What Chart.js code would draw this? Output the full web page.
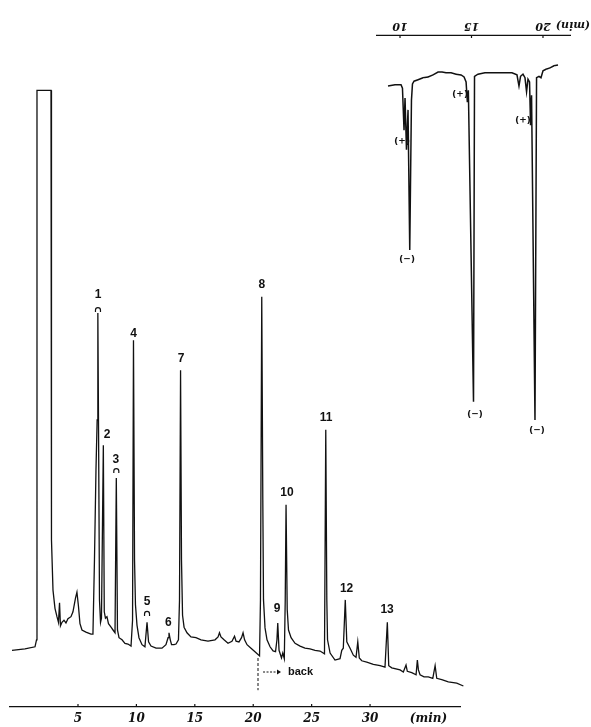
<!DOCTYPE html>
<html>
<head>
<meta charset="utf-8">
<script src="https://cdn.jsdelivr.net/npm/chart.js@4.4.1/dist/chart.umd.min.js"></script>
<style>
  html, body { margin: 0; padding: 0; background: #fff; }
  #wrap { position: relative; width: 591px; height: 727px; overflow: hidden; }
  #main { position: absolute; left: 0; top: 0; }
  /* the inset trace is printed upside down in the original */
  #inset { position: absolute; left: 360px; top: 0; transform: rotate(180deg); }
</style>
</head>
<body>
<div id="wrap">
  <canvas id="main" width="591" height="727"></canvas>
  <canvas id="inset" width="231" height="460"></canvas>
</div>
<script>
// ---- main chromatogram (time in min, detector response in arbitrary units) ----
const mainTime = [
  -0.65, 0.46, 1.32, 1.45, 1.49, 2.69, 2.73, 2.86, 3.03, 3.20, 3.33, 3.42, 3.50, 3.63, 3.80, 3.97, 4.14, 4.40, 4.57, 4.79,
  4.91, 5.04, 5.17, 5.34, 5.68, 6.11, 6.28, 6.41, 6.54, 6.64, 6.70, 6.76, 6.84, 6.93, 7.01, 7.17, 7.25, 7.35, 7.48, 7.61,
  7.83, 8.00, 8.17, 8.28, 8.38, 8.51, 8.77, 9.02, 9.28, 9.54, 9.67, 9.75, 9.84, 9.92, 10.05, 10.22, 10.48, 10.73, 10.91, 11.04,
  11.25, 11.68, 12.19, 12.53, 12.71, 12.79, 12.90, 13.01, 13.22, 13.39, 13.60, 13.69, 13.78, 13.86, 13.95, 14.08, 14.33, 14.67, 15.10, 15.53,
  16.13, 16.73, 16.99, 17.11, 17.24, 17.50, 17.84, 18.18, 18.40, 18.53, 18.78, 19.00, 19.13, 19.26, 19.47, 19.81, 20.15, 20.54, 20.62, 20.73,
  20.82, 20.88, 21.01, 21.18, 21.44, 21.70, 21.91, 22.03, 22.10, 22.21, 22.42, 22.53, 22.66, 22.74, 22.81, 22.91, 23.02, 23.24, 23.58, 24.01,
  24.43, 24.86, 25.29, 25.72, 26.10, 26.21, 26.30, 26.36, 26.58, 27.00, 27.43, 27.58, 27.71, 27.88, 28.01, 28.29, 28.57, 28.80, 28.95, 29.08,
  29.29, 29.72, 30.28, 30.86, 31.28, 31.48, 31.60, 31.86, 32.57, 32.85, 33.08, 33.19, 33.57, 33.94, 34.05, 34.14, 34.28, 34.62, 34.99, 35.37,
  35.57, 35.71, 36.14, 36.70, 37.42, 37.99
];
const mainSignal = [
  8.1, 8.3, 8.6, 9.6, 88.1, 88.1, 23.9, 16.7, 14.1, 12.9, 12.1, 14.9, 11.6, 12.1, 12.4, 12.0, 12.6, 12.9, 13.6, 15.6,
  16.4, 14.4, 11.9, 11.0, 10.7, 10.4, 10.4, 21.0, 33.9, 41.0, 56.3, 39.6, 15.3, 12.1, 12.7, 37.4, 13.6, 12.7, 12.9, 11.9,
  11.4, 11.0, 10.6, 32.7, 11.0, 9.9, 9.6, 9.1, 9.0, 8.7, 12.4, 52.4, 21.0, 14.6, 11.7, 9.9, 8.9, 8.6, 12.1, 9.3,
  8.7, 8.4, 8.4, 8.9, 9.9, 10.6, 9.6, 8.9, 8.9, 9.0, 9.6, 15.3, 48.1, 21.0, 13.1, 11.4, 10.6, 10.0, 9.9, 9.6,
  9.4, 9.6, 10.0, 10.6, 10.0, 9.6, 9.1, 9.4, 10.1, 9.4, 9.3, 9.9, 10.6, 9.6, 8.9, 8.4, 7.9, 7.3, 15.3, 58.6,
  29.6, 15.3, 11.3, 9.6, 8.6, 8.0, 7.9, 9.6, 12.0, 8.1, 7.0, 7.7, 6.9, 15.3, 28.9, 13.9, 11.0, 9.9, 9.1, 8.7,
  8.4, 8.3, 8.1, 8.0, 7.6, 39.6, 15.3, 9.6, 7.7, 6.7, 6.9, 8.1, 8.4, 15.3, 9.3, 8.4, 7.4, 7.1, 9.3, 7.0,
  6.6, 6.4, 6.1, 5.9, 5.7, 12.1, 5.9, 5.6, 5.3, 5.0, 6.0, 5.1, 4.9, 4.6, 6.7, 5.3, 4.6, 4.3, 4.3, 4.1,
  5.9, 4.1, 3.9, 3.6, 3.4, 3.0
];
const mainTicks = [5, 10, 15, 20, 25, 30, 35];   // 35 carries the "(min)" caption

// peak numbers and where they are written (time, response)
const peakNames = ['1', '2', '3', '4', '5', '6', '7', '8', '9', '10', '11', '12', '13'];
const peakLabelTime = [6.71, 7.48, 8.25, 9.75, 10.91, 12.73, 13.82, 20.73, 22.04, 22.89, 26.23, 27.99, 31.46];
const peakLabelLevel = [58.9, 38.9, 35.3, 53.4, 15.1, 12.1, 49.7, 60.3, 14.1, 30.6, 41.4, 16.9, 13.9];
// little "∩" marks under some numbers
const bracketTime = [6.71, 8.28, 10.91];
const bracketLevel = [56.7, 33.7, 13.3];
// "→ back" note
const backTime = 20.41;
const backArrow = [20.84, 22.38];
const backLevel = 5.0;

// ---- inset trace (printed upside down) ----
const insetTime = [
  9.16, 9.65, 10.07, 10.17, 10.28, 10.35, 10.45, 10.56, 10.68, 10.80, 10.87, 10.98, 11.26, 11.61, 11.96, 12.31, 12.66, 12.94,
  13.22, 13.57, 13.92, 14.27, 14.48, 14.62, 14.71, 14.78, 15.14, 15.21, 15.45, 15.94, 16.64, 17.34, 17.83, 18.18, 18.32, 18.43,
  18.60, 18.74, 18.85, 18.95, 19.06, 19.13, 19.20, 19.44, 19.55, 19.72, 19.86, 20.00, 20.21, 20.49, 20.77, 21.05
];
const insetSignal = [
  7.3, 7.1, 7.1, 7.6, 13.6, 9.0, 16.4, 10.7, 30.7, 9.3, 7.0, 6.6, 6.4, 6.1, 6.0, 5.7, 5.3, 5.3,
  5.4, 5.4, 5.6, 5.7, 6.0, 6.7, 9.6, 7.9, 52.4, 5.9, 5.6, 5.4, 5.4, 5.4, 5.4, 5.7, 7.3, 5.9,
  5.6, 6.1, 8.1, 6.3, 6.7, 12.9, 8.6, 55.0, 6.1, 5.9, 6.1, 5.1, 4.9, 4.7, 4.4, 4.3
];
const insetTicks = [10, 15, 20];
const signNames = ['(−)', '(−)', '(−)', '(+)', '(+)', '(+)'];
const signTime = [10.49, 15.24, 19.58, 10.14, 14.20, 18.60];
const signLevel = [31.9, 54.0, 56.4, 15.0, 8.3, 12.1];

const ink = '#111';

// short tick marks pointing into the plot
const innerTicks = {
  id: 'innerTicks',
  afterDraw(chart, args, opts) {
    const { ctx, chartArea } = chart;
    const x = chart.scales.x;
    ctx.save();
    ctx.strokeStyle = ink;
    ctx.lineWidth = 1.2;
    opts.values.forEach(v => {
      const px = x.getPixelForValue(v);
      ctx.beginPath();
      ctx.moveTo(px, chartArea.bottom);
      ctx.lineTo(px, chartArea.bottom - 3);
      ctx.stroke();
    });
    ctx.restore();
  }
};

const mainNotes = {
  id: 'mainNotes',
  afterDatasetsDraw(chart) {
    const { ctx } = chart;
    const x = chart.scales.x, y = chart.scales.y;
    ctx.save();
    ctx.fillStyle = ink;
    ctx.strokeStyle = ink;
    ctx.textAlign = 'center';
    ctx.textBaseline = 'middle';
    ctx.font = 'bold 12px "Liberation Sans"';
    peakNames.forEach((n, i) => {
      ctx.fillText(n, x.getPixelForValue(peakLabelTime[i]), y.getPixelForValue(peakLabelLevel[i]));
    });
    ctx.lineWidth = 1.2;
    bracketTime.forEach((t, i) => {
      const px = x.getPixelForValue(t), py = y.getPixelForValue(bracketLevel[i]);
      ctx.beginPath();
      ctx.moveTo(px - 2.5, py + 2);
      ctx.lineTo(px - 2.5, py);
      ctx.arc(px, py, 2.5, Math.PI, 0);
      ctx.lineTo(px + 2.5, py + 2);
      ctx.stroke();
    });
    // dashed marker and "→ back"
    const bx = x.getPixelForValue(backTime);
    ctx.lineWidth = 1;
    ctx.setLineDash([3, 2]);
    ctx.beginPath();
    ctx.moveTo(bx, y.getPixelForValue(7.0));
    ctx.lineTo(bx, y.getPixelForValue(2.4));
    ctx.stroke();
    const ay = y.getPixelForValue(backLevel);
    const a0 = x.getPixelForValue(backArrow[0]), a1 = x.getPixelForValue(backArrow[1]);
    ctx.setLineDash([2, 1.5]);
    ctx.beginPath();
    ctx.moveTo(a0, ay);
    ctx.lineTo(a1 - 3, ay);
    ctx.stroke();
    ctx.setLineDash([]);
    ctx.beginPath();
    ctx.moveTo(a1, ay);
    ctx.lineTo(a1 - 4, ay - 2.5);
    ctx.lineTo(a1 - 4, ay + 2.5);
    ctx.closePath();
    ctx.fill();
    ctx.textAlign = 'left';
    ctx.font = 'bold 11px "Liberation Sans"';
    ctx.fillText('back', a1 + 7, ay);
    ctx.restore();
  }
};

const insetNotes = {
  id: 'insetNotes',
  afterDatasetsDraw(chart) {
    const { ctx, chartArea } = chart;
    const x = chart.scales.x, y = chart.scales.y;
    ctx.save();
    ctx.fillStyle = ink;
    ctx.textAlign = 'center';
    ctx.textBaseline = 'middle';
    ctx.font = 'bold 9px "DejaVu Sans"';
    signNames.forEach((s, i) => {
      ctx.fillText(s, x.getPixelForValue(signTime[i]), y.getPixelForValue(signLevel[i]));
    });
    ctx.font = 'italic bold 11px "DejaVu Serif"';
    ctx.fillText('(min)', chartArea.left - 3, chartArea.bottom + 10);
    ctx.restore();
  }
};

function traceChart(id, times, values, opts) {
  return new Chart(document.getElementById(id), {
    type: 'line',
    data: {
      datasets: [{
        data: times.map((t, i) => ({ x: t, y: values[i] })),
        borderColor: ink,
        borderWidth: opts.lineWidth,
        pointRadius: 0,
        tension: 0,
        fill: false,
        clip: false
      }]
    },
    options: {
      responsive: false,
      animation: false,
      events: [],
      layout: { padding: opts.padding },
      plugins: {
        legend: { display: false },
        tooltip: { enabled: false },
        innerTicks: { values: opts.tickMarks }
      },
      scales: {
        x: {
          type: 'linear',
          min: opts.xMin,
          max: opts.xMax,
          reverse: opts.reverse,
          grid: { display: false, drawTicks: false },
          border: { color: ink, width: 1.3 },
          afterBuildTicks: s => { s.ticks = opts.ticks.map(v => ({ value: v })); },
          afterFit: s => { s.height = opts.axisHeight; },
          ticks: {
            autoSkip: false,
            maxRotation: 0,
            padding: opts.tickPad,
            color: ink,
            font: { family: 'DejaVu Serif', size: opts.tickSize, style: 'italic', weight: 'bold' },
            callback: v => (v === 35 ? '(min)' : String(v))
          }
        },
        y: { display: false, min: 0, max: opts.yMax }
      }
    },
    plugins: [innerTicks, opts.notes]
  });
}

traceChart('main', mainTime, mainSignal, {
  lineWidth: 1.3,
  padding: { left: 10, right: 131, top: 7, bottom: 0 },
  xMin: -0.82, xMax: 37.7, reverse: false, yMax: 100,
  ticks: mainTicks, tickMarks: [5, 10, 15, 20, 25, 30],
  axisHeight: 20, tickPad: 5, tickSize: 12, notes: mainNotes
});

traceChart('inset', insetTime, insetSignal, {
  lineWidth: 1.5,
  padding: { left: 21, right: 17, top: 5, bottom: 0 },
  xMin: 8.39, xMax: 21.89, reverse: true, yMax: 60,
  ticks: insetTicks, tickMarks: insetTicks,
  axisHeight: 35, tickPad: 3, tickSize: 11, notes: insetNotes
});
</script>
</body>
</html>
